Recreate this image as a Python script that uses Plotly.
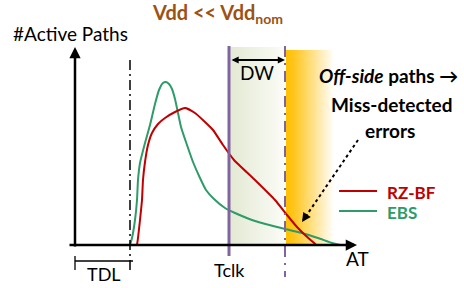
import plotly.graph_objects as go

# ---- data (AT units, #active paths) ----
ebs_at = [55, 57, 60, 62, 63, 65, 70, 75, 80, 84, 88, 91, 94, 97, 100, 103, 106, 112, 118, 125, 131, 139, 150, 160, 180, 210, 227, 243, 257, 265]
ebs_cnt = [0, 7, 25, 45, 65, 82, 102, 120, 141, 155, 162, 163, 161, 156, 146, 132, 118, 100, 83, 67, 55, 46, 37, 32, 24, 16, 12, 7, 2, 0]
rzbf_at = [62, 63, 65, 67, 68, 70, 73, 77, 83, 90, 100, 110, 120, 130, 138, 148, 159, 180, 200, 212, 222, 230, 238, 241]
rzbf_cnt = [0, 7, 25, 45, 65, 83, 100, 112, 121, 127, 133, 137, 132, 123, 115, 100, 85, 65, 45, 30, 18, 10, 3, 0]
series_names = ["RZ-BF", "EBS"]
TDL = 55
TCLK = 154
DW_END = 210

RED = "#C00000"
GREEN = "#2E9B69"
PURPLE = "#8064A2"
BROWN = "#9C5214"
FONT = "Lato"

def X(px):
    return px - 75

def Y(py):
    return 245 - py

fig = go.Figure()

# detection window region (light green gradient)
fig.add_trace(go.Scatter(
    x=[TCLK, DW_END, DW_END, TCLK, TCLK], y=[Y(244), Y(244), Y(47), Y(47), Y(244)],
    mode="lines", fill="toself", line=dict(color="rgba(0,0,0,0)", width=0),
    fillgradient=dict(type="horizontal", colorscale=[[0, "#E3E9D3"], [1, "#FBFCF7"]]),
    hoverinfo="skip", showlegend=False))
# off-side region (orange gradient)
fig.add_trace(go.Scatter(
    x=[DW_END + 1, X(334), X(334), DW_END + 1, DW_END + 1], y=[Y(244), Y(244), Y(50), Y(50), Y(244)],
    mode="lines", fill="toself", line=dict(color="rgba(0,0,0,0)", width=0),
    fillgradient=dict(type="horizontal", colorscale=[[0, "#FFC000"], [0.15, "#FFC51A"], [1, "#FFFFFF"]]),
    hoverinfo="skip", showlegend=False))

fig.add_trace(go.Scatter(x=ebs_at, y=ebs_cnt, mode="lines", name=series_names[1],
                         line=dict(color=GREEN, width=2, shape="spline", smoothing=0.5), showlegend=False))
fig.add_trace(go.Scatter(x=rzbf_at, y=rzbf_cnt, mode="lines", name=series_names[0],
                         line=dict(color=RED, width=2, shape="spline", smoothing=0.5), showlegend=False))

shapes = []
# TDL dash-dot line
shapes.append(dict(type="line", x0=TDL, x1=TDL, y0=Y(60), y1=Y(271), line=dict(color="black", width=1.5, dash="10px,4px,2px,4px")))
# Tclk line
shapes.append(dict(type="line", x0=TCLK, x1=TCLK, y0=Y(46), y1=Y(256), line=dict(color=PURPLE, width=3)))
# DW end dash-dot
shapes.append(dict(type="line", x0=DW_END, x1=DW_END, y0=Y(46), y1=Y(277), line=dict(color=PURPLE, width=2, dash="11px,6px,2px,6px")))
# TDL bracket
shapes.append(dict(type="line", x0=0, x1=X(133), y0=Y(261), y1=Y(261), line=dict(color="black", width=1.3)))
shapes.append(dict(type="line", x0=0, x1=0, y0=Y(256), y1=Y(270), line=dict(color="black", width=1.3)))
# legend lines
shapes.append(dict(type="line", x0=X(339), x1=X(377), y0=Y(191), y1=Y(191), line=dict(color=RED, width=2)))
shapes.append(dict(type="line", x0=X(339), x1=X(377), y0=Y(211), y1=Y(211), line=dict(color=GREEN, width=2)))
# dotted arrow shaft
shapes.append(dict(type="line", x0=X(358), x1=X(304), y0=Y(140), y1=Y(219), line=dict(color="black", width=2, dash="dot")))
for s in shapes:
    s.update(xref="x", yref="y", layer="above")

ann = []
# axes arrows
ann.append(dict(x=0, y=Y(47), ax=0, ay=Y(248), axref="x", ayref="y", xref="x", yref="y", text="",
                showarrow=True, arrowhead=2, arrowsize=0.9, arrowwidth=2.5, arrowcolor="black"))
ann.append(dict(x=X(357), y=0, ax=X(68), ay=0, axref="x", ayref="y", xref="x", yref="y", text="",
                showarrow=True, arrowhead=2, arrowsize=0.9, arrowwidth=2.5, arrowcolor="black"))
# DW double arrow
ann.append(dict(x=DW_END, y=Y(60), ax=TCLK + 1, ay=Y(60), axref="x", ayref="y", xref="x", yref="y", text="",
                showarrow=True, arrowhead=2, startarrowhead=2, arrowside="end+start", arrowsize=0.8,
                startarrowsize=0.8, arrowwidth=1.8, arrowcolor="black"))
# dotted arrow head
ann.append(dict(x=X(302), y=Y(222), ax=X(306), ay=Y(216), axref="x", ayref="y", xref="x", yref="y", text="",
                showarrow=True, arrowhead=2, arrowsize=0.9, arrowwidth=2, arrowcolor="black"))

def txt(px, py, s, size=19, color="black", xanchor="center", bold=False):
    if bold:
        s = "<b>" + s + "</b>"
    ann.append(dict(x=X(px), y=Y(py), xref="x", yref="y", text=s, showarrow=False,
                    xanchor=xanchor, yanchor="middle", font=dict(family=FONT, size=size, color=color)))

txt(217, 13, "Vdd << Vdd<sub>nom</sub>", size=20, color=BROWN, bold=True)
txt(70, 33, "#Active Paths", size=19)
txt(257, 72, "DW", size=19)
txt(229, 270, "Tclk", size=18)
txt(104, 274, "TDL", size=18)
txt(357, 258, "AT", size=19)
txt(388, 75, "<i>Off-side</i> paths →", size=19, bold=True)
txt(392, 104, "Miss-detected", size=19, bold=True)
txt(390, 130, "errors", size=19, bold=True)
txt(385, 192, series_names[0], size=17, color=RED, xanchor="left", bold=True)
txt(385, 212, series_names[1], size=17, color=GREEN, xanchor="left", bold=True)

fig.update_layout(
    width=464, height=288, margin=dict(l=0, r=0, t=0, b=0),
    paper_bgcolor="white", plot_bgcolor="white",
    xaxis=dict(range=[-75, 389], visible=False, fixedrange=True),
    yaxis=dict(range=[-43, 245], visible=False, fixedrange=True),
    shapes=shapes, annotations=ann, showlegend=False, hovermode=False,
)
fig.write_html("out.html", config={"displayModeBar": False, "staticPlot": True},
               post_script="document.body.style.margin='0';document.body.style.overflow='hidden';")
